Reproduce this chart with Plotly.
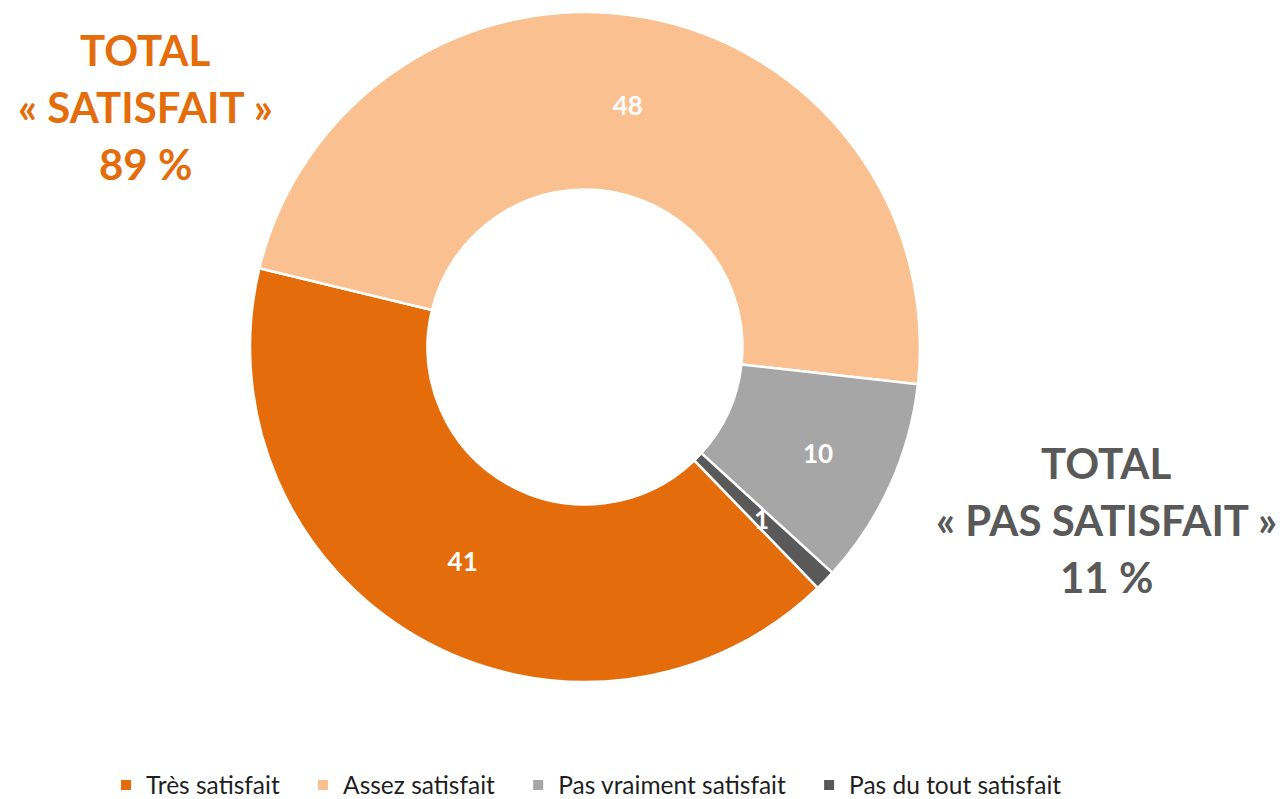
import math
import plotly.graph_objects as go

labels = ["Très satisfait", "Assez satisfait", "Pas vraiment satisfait", "Pas du tout satisfait"]
values = [41, 48, 10, 1]
colors = ["#E46C0A", "#FAC090", "#A6A6A6", "#595959"]

total_sat = ["TOTAL", "« SATISFAIT »", "89 %"]
total_pas = ["TOTAL", "« PAS SATISFAIT »", "11 %"]

FONT = "Lato"
# the page body has an 8px margin; the figure is sized to the visible area
W, H = 1278, 791
OFF = 8

def px(x):
    return (x - OFF) / W

def py(y):
    return 1 - (y - OFF) / H

ROT = 136
HOLE = 0.47
DOM_X = [px(250), px(920)]
DOM_Y = [py(682), py(12)]
SMALL = 3  # slices smaller than this get their label placed manually in the ring

templates = ["<b>%{value}</b>" if v >= SMALL else "" for v in values]

fig = go.Figure()
fig.add_trace(go.Pie(
    labels=[l + "\u2003" for l in labels],
    values=values,
    sort=False,
    direction="clockwise",
    rotation=ROT,
    hole=HOLE,
    marker=dict(colors=colors, line=dict(color="white", width=2.5)),
    texttemplate=templates,
    textposition="inside",
    insidetextorientation="horizontal",
    textfont=dict(color="white", size=26, family=FONT),
    domain=dict(x=DOM_X, y=DOM_Y),
    hoverinfo="label+value",
))

anns = []
# labels for tiny slices: middle of the ring, at the slice's mid angle
cx = (DOM_X[0] + DOM_X[1]) / 2 * W
cy = (1 - (DOM_Y[0] + DOM_Y[1]) / 2) * H
R = min((DOM_X[1] - DOM_X[0]) * W, (DOM_Y[1] - DOM_Y[0]) * H) / 2
rmid = R * (1 + HOLE) / 2
tot = sum(values)
cum = 0
for v in values:
    if v < SMALL:
        a = math.radians(ROT + 360 * (cum + v / 2) / tot)
        x = cx + rmid * math.sin(a)
        y = cy - rmid * math.cos(a)
        anns.append(dict(x=x / W, y=1 - y / H, xref="paper", yref="paper",
                         text=f"<b>{v}</b>", showarrow=False, xanchor="center", yanchor="middle",
                         font=dict(size=26, color="white", family=FONT)))
    cum += v

for i, t in enumerate(total_sat):
    anns.append(dict(x=px(145), y=py(50 + 57 * i), xref="paper", yref="paper",
                     text=f"<b>{t}</b>", showarrow=False, xanchor="center", yanchor="middle",
                     font=dict(size=42, color="#E46C0A", family=FONT)))
for i, t in enumerate(total_pas):
    anns.append(dict(x=px(1106), y=py(463 + 57 * i), xref="paper", yref="paper",
                     text=f"<b>{t}</b>", showarrow=False, xanchor="center", yanchor="middle",
                     font=dict(size=42, color="#595959", family=FONT)))

fig.update_layout(
    width=W, height=H,
    margin=dict(l=0, r=0, t=0, b=0, autoexpand=False),
    paper_bgcolor="white", plot_bgcolor="white",
    annotations=anns,
    uniformtext=dict(minsize=26, mode="show"),
    legend=dict(orientation="h", x=px(106), xanchor="left", y=py(785), yanchor="middle",
                font=dict(size=24.5, color="#1f1f1f", family=FONT), itemsizing="constant",
                traceorder="normal"),
    showlegend=True,
)

fig.write_html("out.html")
